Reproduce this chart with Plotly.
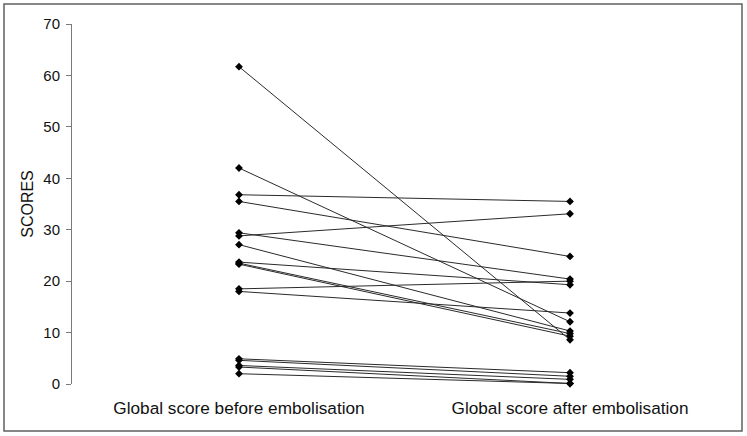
import plotly.graph_objects as go

categories = ["Global score before embolisation", "Global score after embolisation"]
before = [61.7, 42.0, 36.8, 35.5, 29.4, 28.8, 27.1, 23.7, 23.5, 23.3, 18.5, 18.0, 4.9, 4.6, 3.6, 3.3, 2.0]
after = [8.6, 12.1, 35.5, 24.8, 20.4, 33.1, 10.3, 19.3, 9.8, 9.3, 20.0, 13.8, 2.2, 1.5, 0.9, 0.1, 0.1]
y_ticks = [0, 10, 20, 30, 40, 50, 60, 70]

fig = go.Figure()
for b, a in zip(before, after):
    fig.add_trace(go.Scatter(
        x=[0, 1], y=[b, a], mode="lines+markers",
        line=dict(color="#2a2a2a", width=1),
        marker=dict(symbol="diamond", size=6, color="#000000"),
        cliponaxis=False, showlegend=False, hoverinfo="skip"))

font = "Liberation Sans, Arial, sans-serif"
fig.update_layout(
    width=747, height=436,
    margin=dict(l=72, r=10, t=24, b=52),
    paper_bgcolor="white", plot_bgcolor="white",
    font=dict(family=font, color="#111111"),
    xaxis=dict(range=[-0.5045, 1.5045], tickvals=[0, 1], ticktext=categories,
               showline=False, showgrid=False, zeroline=False, ticks="",
               tickfont=dict(size=17.2), ticklabelstandoff=12, fixedrange=True),
    yaxis=dict(range=[0, 70], tickvals=y_ticks, showline=True, linecolor="#7a7a7a",
               linewidth=1, ticks="outside", ticklen=5, tickcolor="#7a7a7a",
               showgrid=False, zeroline=False, tickfont=dict(size=15),
               ticklabelstandoff=3,
               title=dict(text="SCORES", font=dict(size=16), standoff=5)),
    shapes=[dict(type="rect", xref="paper", yref="paper",
                 x0=(4 - 72) / 665, x1=(742 - 72) / 665,
                 y0=(384 - 431) / 360, y1=(384 - 4) / 360,
                 line=dict(color="#606060", width=1.5), fillcolor="rgba(0,0,0,0)",
                 layer="below")],
)

fig.write_html("out.html", config={"displayModeBar": False},
               post_script="document.body.style.margin='0';")
